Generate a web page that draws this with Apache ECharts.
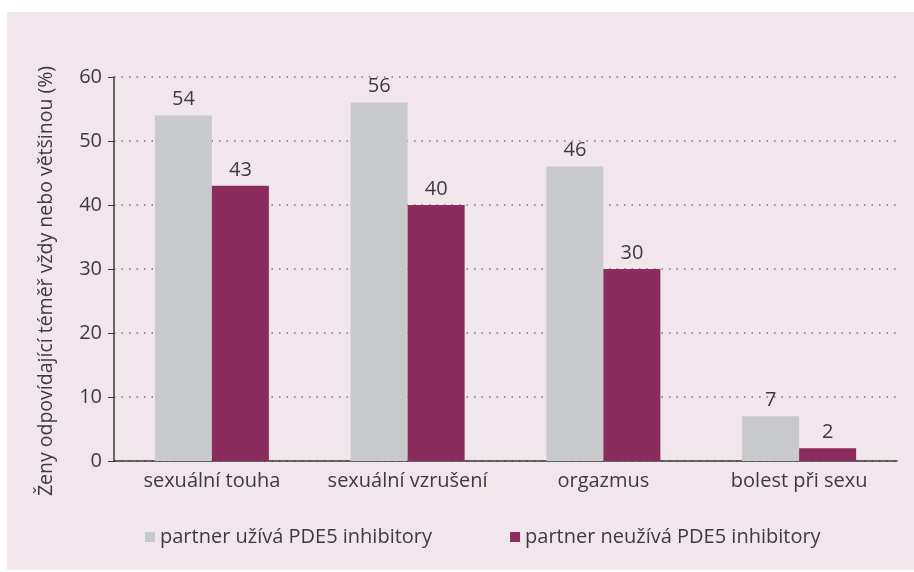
<!DOCTYPE html>
<html>
<head>
    <meta charset="utf-8">
    <title>PDE5</title>
    <script src="https://cdn.jsdelivr.net/npm/echarts@6/dist/echarts.min.js"></script>
    <style>
        body { margin: 0; background: #fff; }
        #chart { width: 914px; height: 572px; }
    </style>
</head>
<body>
<div id="chart"></div>
<script>
    var categories = ['sexuální touha', 'sexuální vzrušení', 'orgazmus', 'bolest při sexu'];
    var uziva = [54, 56, 46, 7];
    var neuziva = [43, 40, 30, 2];
    var seriesNames = ['partner užívá PDE5 inhibitory', 'partner neužívá PDE5 inhibitory'];
    var yTicks = [0, 10, 20, 30, 40, 50, 60];

    var font = 'Open Sans';
    var textColor = '#3f3a3d';

    var chart = echarts.init(document.getElementById('chart'));
    var option = {
        backgroundColor: '#ffffff',
        textStyle: { fontFamily: font },
        graphic: [
            {
                type: 'rect',
                z: -10,
                shape: { x: 7, y: 12, width: 907, height: 558 },
                style: { fill: '#f2e6ed' }
            },
            {
                type: 'text',
                x: 46,
                y: 281,
                rotation: Math.PI / 2,
                style: {
                    text: 'Ženy odpovídající téměř vždy nebo většinou (%)',
                    fontFamily: font,
                    fontSize: 19.5,
                    fill: textColor,
                    align: 'center',
                    verticalAlign: 'middle'
                }
            }
        ],
        grid: { left: 114, right: 17, top: 77, bottom: 111 },
        legend: {
            left: 140,
            top: 522,
            itemWidth: 10,
            itemHeight: 10,
            itemGap: 78,
            icon: 'rect',
            textStyle: { fontFamily: font, fontSize: 20, color: textColor },
            data: seriesNames
        },
        xAxis: {
            type: 'category',
            data: categories,
            axisLine: { lineStyle: { color: '#3a3a3a', width: 1.5 } },
            axisTick: { show: false },
            axisLabel: { interval: 0, margin: 10, fontSize: 20, color: textColor, fontFamily: font }
        },
        yAxis: {
            type: 'value',
            min: yTicks[0],
            max: yTicks[yTicks.length - 1],
            interval: 10,
            axisLine: { show: true, lineStyle: { color: '#3a3a3a', width: 1.5 } },
            axisTick: { show: true, length: 6, lineStyle: { color: '#3a3a3a' } },
            axisLabel: { margin: 12, fontSize: 20, color: textColor, fontFamily: font },
            splitLine: { lineStyle: { type: [1.5, 6], color: '#7a7478', width: 1.5 } }
        },
        series: [
            {
                name: seriesNames[0],
                type: 'bar',
                data: uziva,
                barWidth: 57,
                barGap: '0%',
                itemStyle: { color: '#c8c9cb' },
                label: { show: true, position: 'top', distance: 6, fontSize: 20, color: textColor, fontFamily: font }
            },
            {
                name: seriesNames[1],
                type: 'bar',
                data: neuziva,
                barWidth: 57,
                barGap: '0%',
                itemStyle: { color: '#8b2c5c' },
                label: { show: true, position: 'top', distance: 6, fontSize: 20, color: textColor, fontFamily: font }
            }
        ]
    };
    chart.setOption(option);
</script>
</body>
</html>
